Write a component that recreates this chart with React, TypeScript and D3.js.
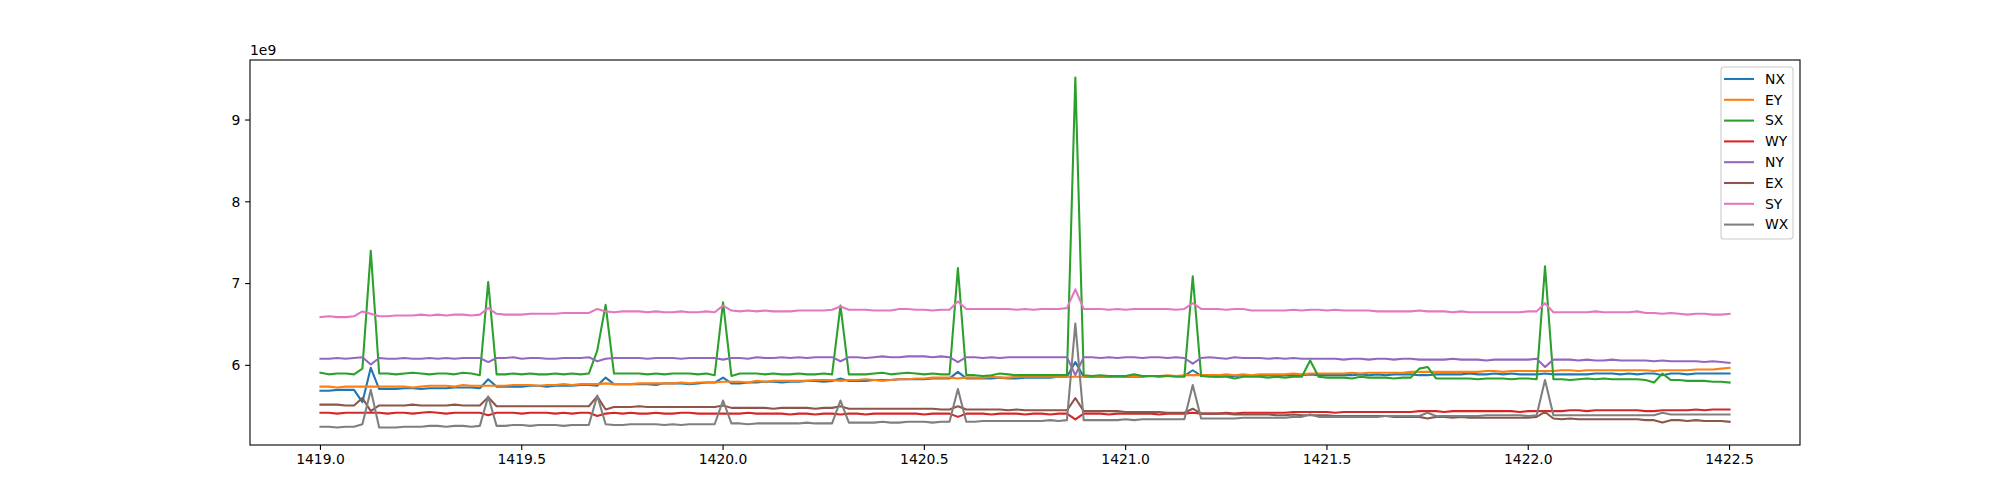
import React from 'react'
import * as d3 from 'd3'

// values in units of 1e9, sampled every 1/48 from 1419.0 to 1422.5
const xStart = 1419.0
const xStep = 1 / 48

const seriesNames = ['NX', 'EY', 'SX', 'WY', 'NY', 'EX', 'SY', 'WX']
const colors = ['#1f77b4', '#ff7f0e', '#2ca02c', '#d62728', '#9467bd', '#8c564b', '#e377c2', '#7f7f7f']

const NX = [
  5.69, 5.69, 5.70, 5.70, 5.70, 5.55, 5.97, 5.71, 5.71, 5.71, 5.72, 5.72, 5.71, 5.72,
  5.72, 5.72, 5.73, 5.73, 5.73, 5.72, 5.83, 5.74, 5.74, 5.74, 5.74, 5.75, 5.75, 5.74,
  5.75, 5.75, 5.75, 5.76, 5.76, 5.75, 5.85, 5.77, 5.77, 5.77, 5.77, 5.77, 5.76, 5.78,
  5.78, 5.78, 5.77, 5.78, 5.79, 5.79, 5.85, 5.78, 5.78, 5.79, 5.79, 5.80, 5.80, 5.79,
  5.80, 5.80, 5.81, 5.81, 5.80, 5.81, 5.84, 5.81, 5.81, 5.81, 5.82, 5.82, 5.82, 5.83,
  5.83, 5.83, 5.83, 5.84, 5.84, 5.84, 5.92, 5.84, 5.84, 5.84, 5.84, 5.85, 5.84, 5.84,
  5.85, 5.85, 5.85, 5.85, 5.86, 5.86, 6.04, 5.86, 5.86, 5.86, 5.86, 5.86, 5.86, 5.86,
  5.86, 5.87, 5.86, 5.87, 5.87, 5.87, 5.94, 5.87, 5.87, 5.86, 5.87, 5.87, 5.88, 5.87,
  5.88, 5.88, 5.87, 5.88, 5.88, 5.88, 5.89, 5.88, 5.88, 5.88, 5.88, 5.88, 5.89, 5.88,
  5.89, 5.88, 5.89, 5.89, 5.89, 5.88, 5.88, 5.89, 5.89, 5.89, 5.89, 5.90, 5.89, 5.89,
  5.90, 5.89, 5.90, 5.89, 5.89, 5.89, 5.90, 5.89, 5.89, 5.89, 5.89, 5.89, 5.90, 5.90,
  5.90, 5.89, 5.90, 5.89, 5.90, 5.90, 5.88, 5.90, 5.90, 5.89, 5.90, 5.90, 5.90, 5.90,
  5.90,
]

const EY = [
  5.74, 5.74, 5.73, 5.74, 5.74, 5.74, 5.74, 5.74, 5.74, 5.74, 5.74, 5.73, 5.74, 5.75,
  5.75, 5.75, 5.74, 5.76, 5.75, 5.75, 5.75, 5.75, 5.75, 5.76, 5.76, 5.76, 5.75, 5.76,
  5.76, 5.77, 5.76, 5.77, 5.77, 5.77, 5.78, 5.77, 5.77, 5.77, 5.78, 5.78, 5.78, 5.78,
  5.78, 5.79, 5.78, 5.79, 5.79, 5.79, 5.80, 5.80, 5.80, 5.79, 5.81, 5.80, 5.81, 5.81,
  5.81, 5.81, 5.81, 5.82, 5.82, 5.82, 5.81, 5.82, 5.82, 5.83, 5.82, 5.81, 5.82, 5.83,
  5.83, 5.84, 5.84, 5.85, 5.85, 5.85, 5.84, 5.85, 5.85, 5.85, 5.86, 5.85, 5.85, 5.86,
  5.86, 5.86, 5.86, 5.86, 5.86, 5.86, 5.86, 5.86, 5.87, 5.86, 5.87, 5.86, 5.87, 5.87,
  5.87, 5.87, 5.87, 5.88, 5.87, 5.88, 5.88, 5.88, 5.88, 5.88, 5.89, 5.88, 5.89, 5.88,
  5.89, 5.89, 5.89, 5.89, 5.90, 5.89, 5.90, 5.90, 5.90, 5.90, 5.90, 5.91, 5.90, 5.91,
  5.91, 5.91, 5.91, 5.91, 5.92, 5.92, 5.92, 5.92, 5.92, 5.92, 5.92, 5.92, 5.92, 5.93,
  5.93, 5.92, 5.93, 5.93, 5.93, 5.93, 5.93, 5.93, 5.94, 5.94, 5.93, 5.94, 5.94, 5.94,
  5.94, 5.94, 5.94, 5.94, 5.94, 5.93, 5.94, 5.94, 5.94, 5.94, 5.95, 5.95, 5.95, 5.96,
  5.97,
]

const SX = [
  5.91, 5.89, 5.90, 5.90, 5.89, 5.96, 7.40, 5.90, 5.90, 5.89, 5.90, 5.91, 5.90, 5.89,
  5.90, 5.90, 5.89, 5.91, 5.90, 5.88, 7.02, 5.89, 5.89, 5.90, 5.89, 5.90, 5.89, 5.89,
  5.90, 5.89, 5.90, 5.89, 5.90, 6.18, 6.74, 5.90, 5.90, 5.90, 5.90, 5.89, 5.90, 5.89,
  5.90, 5.90, 5.90, 5.89, 5.90, 5.88, 6.77, 5.87, 5.90, 5.90, 5.90, 5.89, 5.90, 5.89,
  5.89, 5.90, 5.89, 5.89, 5.90, 5.89, 6.73, 5.89, 5.89, 5.89, 5.90, 5.91, 5.89, 5.90,
  5.91, 5.90, 5.89, 5.90, 5.89, 5.89, 7.19, 5.88, 5.88, 5.87, 5.88, 5.90, 5.89, 5.88,
  5.88, 5.88, 5.88, 5.88, 5.88, 5.88, 9.52, 5.88, 5.87, 5.88, 5.87, 5.87, 5.87, 5.89,
  5.87, 5.87, 5.87, 5.87, 5.86, 5.86, 7.09, 5.87, 5.86, 5.86, 5.86, 5.84, 5.86, 5.86,
  5.86, 5.85, 5.86, 5.85, 5.86, 5.86, 6.06, 5.86, 5.85, 5.85, 5.85, 5.84, 5.86, 5.85,
  5.85, 5.85, 5.84, 5.85, 5.85, 5.96, 5.98, 5.84, 5.84, 5.84, 5.84, 5.84, 5.83, 5.84,
  5.84, 5.84, 5.83, 5.84, 5.84, 5.83, 7.21, 5.83, 5.83, 5.82, 5.83, 5.84, 5.83, 5.84,
  5.83, 5.83, 5.83, 5.83, 5.82, 5.79, 5.90, 5.82, 5.82, 5.81, 5.81, 5.81, 5.80, 5.80,
  5.79,
]

const WY = [
  5.42, 5.42, 5.41, 5.42, 5.42, 5.42, 5.42, 5.42, 5.41, 5.42, 5.42, 5.41, 5.42, 5.43,
  5.42, 5.41, 5.42, 5.42, 5.42, 5.42, 5.39, 5.42, 5.42, 5.42, 5.41, 5.42, 5.42, 5.42,
  5.41, 5.42, 5.41, 5.42, 5.42, 5.38, 5.41, 5.42, 5.41, 5.42, 5.41, 5.41, 5.42, 5.41,
  5.41, 5.42, 5.42, 5.41, 5.41, 5.41, 5.41, 5.41, 5.41, 5.42, 5.41, 5.41, 5.41, 5.41,
  5.40, 5.41, 5.41, 5.40, 5.41, 5.41, 5.40, 5.41, 5.41, 5.40, 5.41, 5.41, 5.41, 5.41,
  5.41, 5.41, 5.40, 5.41, 5.41, 5.41, 5.37, 5.41, 5.41, 5.41, 5.40, 5.41, 5.41, 5.41,
  5.40, 5.41, 5.41, 5.40, 5.41, 5.41, 5.34, 5.41, 5.41, 5.41, 5.40, 5.41, 5.41, 5.41,
  5.41, 5.41, 5.40, 5.41, 5.41, 5.41, 5.42, 5.41, 5.41, 5.41, 5.42, 5.41, 5.42, 5.42,
  5.42, 5.42, 5.42, 5.42, 5.43, 5.43, 5.43, 5.43, 5.43, 5.42, 5.43, 5.43, 5.43, 5.43,
  5.43, 5.43, 5.43, 5.43, 5.43, 5.44, 5.44, 5.44, 5.43, 5.44, 5.44, 5.44, 5.44, 5.44,
  5.44, 5.44, 5.44, 5.43, 5.44, 5.44, 5.44, 5.44, 5.44, 5.45, 5.45, 5.44, 5.45, 5.45,
  5.45, 5.45, 5.45, 5.45, 5.44, 5.44, 5.45, 5.45, 5.45, 5.45, 5.46, 5.45, 5.46, 5.46,
  5.46,
]

const NY = [
  6.08, 6.08, 6.09, 6.08, 6.09, 6.10, 6.01, 6.09, 6.08, 6.08, 6.09, 6.08, 6.08, 6.09,
  6.08, 6.09, 6.08, 6.09, 6.09, 6.09, 6.04, 6.09, 6.09, 6.10, 6.08, 6.09, 6.09, 6.08,
  6.08, 6.09, 6.09, 6.09, 6.10, 6.05, 6.08, 6.09, 6.09, 6.09, 6.09, 6.08, 6.09, 6.09,
  6.09, 6.08, 6.09, 6.09, 6.09, 6.09, 6.07, 6.09, 6.09, 6.08, 6.10, 6.09, 6.09, 6.10,
  6.09, 6.10, 6.09, 6.10, 6.10, 6.10, 6.05, 6.10, 6.10, 6.09, 6.10, 6.11, 6.10, 6.10,
  6.11, 6.11, 6.11, 6.10, 6.11, 6.10, 6.04, 6.10, 6.10, 6.09, 6.10, 6.09, 6.10, 6.10,
  6.10, 6.10, 6.10, 6.10, 6.10, 6.10, 5.88, 6.10, 6.10, 6.09, 6.10, 6.09, 6.10, 6.10,
  6.09, 6.10, 6.10, 6.09, 6.10, 6.09, 6.02, 6.09, 6.10, 6.09, 6.08, 6.10, 6.09, 6.09,
  6.09, 6.08, 6.09, 6.08, 6.09, 6.08, 6.08, 6.08, 6.08, 6.08, 6.07, 6.08, 6.08, 6.07,
  6.08, 6.08, 6.07, 6.08, 6.08, 6.07, 6.07, 6.07, 6.07, 6.08, 6.07, 6.07, 6.07, 6.06,
  6.07, 6.07, 6.07, 6.07, 6.07, 6.08, 5.98, 6.07, 6.07, 6.07, 6.06, 6.07, 6.06, 6.06,
  6.07, 6.06, 6.06, 6.06, 6.06, 6.05, 6.06, 6.05, 6.05, 6.05, 6.05, 6.04, 6.05, 6.04,
  6.03,
]

const EX = [
  5.52, 5.52, 5.52, 5.51, 5.51, 5.60, 5.44, 5.51, 5.51, 5.51, 5.51, 5.52, 5.51, 5.51,
  5.51, 5.51, 5.52, 5.51, 5.51, 5.51, 5.61, 5.50, 5.50, 5.50, 5.50, 5.50, 5.50, 5.50,
  5.50, 5.50, 5.50, 5.50, 5.50, 5.62, 5.46, 5.49, 5.49, 5.49, 5.50, 5.49, 5.49, 5.49,
  5.49, 5.49, 5.49, 5.49, 5.49, 5.49, 5.51, 5.48, 5.48, 5.48, 5.48, 5.48, 5.47, 5.48,
  5.48, 5.48, 5.48, 5.47, 5.48, 5.48, 5.50, 5.47, 5.47, 5.47, 5.47, 5.47, 5.47, 5.47,
  5.47, 5.47, 5.47, 5.47, 5.46, 5.46, 5.50, 5.46, 5.46, 5.46, 5.46, 5.46, 5.45, 5.46,
  5.45, 5.45, 5.45, 5.45, 5.45, 5.45, 5.60, 5.44, 5.44, 5.44, 5.44, 5.44, 5.43, 5.43,
  5.43, 5.43, 5.43, 5.42, 5.42, 5.42, 5.47, 5.41, 5.41, 5.41, 5.41, 5.40, 5.40, 5.40,
  5.40, 5.40, 5.39, 5.39, 5.40, 5.39, 5.39, 5.39, 5.39, 5.38, 5.38, 5.38, 5.38, 5.38,
  5.38, 5.38, 5.37, 5.37, 5.37, 5.37, 5.35, 5.37, 5.37, 5.36, 5.37, 5.36, 5.36, 5.36,
  5.36, 5.36, 5.36, 5.36, 5.36, 5.37, 5.43, 5.35, 5.34, 5.35, 5.34, 5.34, 5.34, 5.34,
  5.34, 5.34, 5.34, 5.34, 5.33, 5.33, 5.30, 5.33, 5.33, 5.32, 5.33, 5.32, 5.32, 5.32,
  5.31,
]

const SY = [
  6.59, 6.60, 6.59, 6.59, 6.60, 6.66, 6.63, 6.60, 6.60, 6.61, 6.61, 6.61, 6.62, 6.61,
  6.62, 6.61, 6.62, 6.62, 6.61, 6.62, 6.70, 6.63, 6.62, 6.62, 6.62, 6.63, 6.63, 6.63,
  6.63, 6.64, 6.64, 6.64, 6.64, 6.69, 6.66, 6.65, 6.66, 6.66, 6.66, 6.65, 6.66, 6.65,
  6.65, 6.66, 6.65, 6.65, 6.66, 6.65, 6.73, 6.67, 6.66, 6.67, 6.66, 6.67, 6.66, 6.66,
  6.66, 6.67, 6.67, 6.67, 6.67, 6.68, 6.72, 6.68, 6.68, 6.68, 6.67, 6.67, 6.67, 6.69,
  6.69, 6.68, 6.68, 6.67, 6.68, 6.68, 6.78, 6.69, 6.69, 6.69, 6.69, 6.69, 6.69, 6.68,
  6.69, 6.68, 6.69, 6.69, 6.69, 6.70, 6.93, 6.69, 6.69, 6.69, 6.68, 6.69, 6.68, 6.69,
  6.69, 6.69, 6.69, 6.69, 6.68, 6.69, 6.76, 6.69, 6.69, 6.69, 6.68, 6.69, 6.69, 6.67,
  6.67, 6.67, 6.67, 6.67, 6.68, 6.67, 6.68, 6.68, 6.67, 6.68, 6.67, 6.67, 6.67, 6.67,
  6.66, 6.66, 6.66, 6.66, 6.66, 6.67, 6.66, 6.66, 6.66, 6.65, 6.66, 6.65, 6.65, 6.65,
  6.65, 6.65, 6.65, 6.65, 6.66, 6.66, 6.76, 6.65, 6.65, 6.65, 6.65, 6.65, 6.66, 6.65,
  6.65, 6.65, 6.65, 6.66, 6.64, 6.64, 6.63, 6.64, 6.63, 6.62, 6.63, 6.63, 6.62, 6.62,
  6.63,
]

const WX = [
  5.25, 5.25, 5.24, 5.25, 5.25, 5.28, 5.70, 5.24, 5.24, 5.24, 5.25, 5.25, 5.25, 5.26,
  5.26, 5.25, 5.26, 5.26, 5.25, 5.26, 5.62, 5.26, 5.26, 5.27, 5.27, 5.26, 5.27, 5.27,
  5.27, 5.26, 5.27, 5.27, 5.27, 5.63, 5.28, 5.27, 5.27, 5.28, 5.28, 5.28, 5.28, 5.27,
  5.28, 5.27, 5.28, 5.28, 5.28, 5.28, 5.57, 5.29, 5.29, 5.28, 5.29, 5.29, 5.29, 5.29,
  5.29, 5.29, 5.30, 5.29, 5.29, 5.29, 5.57, 5.30, 5.30, 5.30, 5.30, 5.31, 5.30, 5.30,
  5.31, 5.31, 5.31, 5.30, 5.31, 5.31, 5.71, 5.31, 5.31, 5.32, 5.32, 5.32, 5.32, 5.32,
  5.32, 5.32, 5.32, 5.33, 5.32, 5.33, 6.51, 5.33, 5.33, 5.33, 5.33, 5.33, 5.34, 5.33,
  5.34, 5.34, 5.34, 5.34, 5.34, 5.34, 5.76, 5.35, 5.35, 5.35, 5.35, 5.35, 5.36, 5.36,
  5.36, 5.36, 5.36, 5.36, 5.37, 5.37, 5.40, 5.37, 5.37, 5.37, 5.37, 5.37, 5.37, 5.37,
  5.37, 5.38, 5.38, 5.38, 5.38, 5.38, 5.42, 5.38, 5.38, 5.38, 5.38, 5.38, 5.38, 5.39,
  5.39, 5.39, 5.39, 5.39, 5.38, 5.39, 5.82, 5.39, 5.39, 5.39, 5.39, 5.39, 5.39, 5.39,
  5.39, 5.39, 5.39, 5.39, 5.39, 5.39, 5.42, 5.40, 5.40, 5.40, 5.40, 5.40, 5.40, 5.40,
  5.40,
]

const allSeries = [NX, EY, SX, WY, NY, EX, SY, WX]

const xTicks = [1419.0, 1419.5, 1420.0, 1420.5, 1421.0, 1421.5, 1422.0, 1422.5]
const yTicks = [6, 7, 8, 9]

const W = 2000
const H = 500
const ax = { left: 250, right: 1800, top: 60, bottom: 445 }
const font = 'DejaVu Sans, sans-serif'

export default function App() {
  const xs = NX.map((_, i) => xStart + i * xStep)
  const xMin = xs[0]
  const xMax = xs[xs.length - 1]
  const xPad = (xMax - xMin) * 0.05
  const yMin = d3.min(allSeries, s => d3.min(s)) as number
  const yMax = d3.max(allSeries, s => d3.max(s)) as number
  const yPad = (yMax - yMin) * 0.05

  const xScale = d3.scaleLinear()
    .domain([xMin - xPad, xMax + xPad])
    .range([ax.left, ax.right])
  const yScale = d3.scaleLinear()
    .domain([yMin - yPad, yMax + yPad])
    .range([ax.bottom, ax.top])

  const line = d3.line<number>()
    .x((_, i) => xScale(xs[i]))
    .y(d => yScale(d))

  const legendX = 1721
  const legendY = 67
  const rowH = 20.8

  return (
    <div style={{ position: 'absolute', left: 0, top: 0 }}>
      <svg width={W} height={H} style={{ display: 'block', background: '#fff' }}>
        <defs>
          <clipPath id='plot-clip'>
            <rect x={ax.left} y={ax.top} width={ax.right - ax.left} height={ax.bottom - ax.top} />
          </clipPath>
        </defs>

        {/* series lines */}
        <g clipPath='url(#plot-clip)'>
          {allSeries.map((s, k) => (
            <path key={seriesNames[k]} d={line(s) as string} fill='none'
              stroke={colors[k]} strokeWidth={2.08} strokeLinejoin='round' strokeLinecap='square' />
          ))}
        </g>

        {/* axes frame */}
        <rect x={ax.left} y={ax.top} width={ax.right - ax.left} height={ax.bottom - ax.top}
          fill='none' stroke='#000' strokeWidth={1.1} />

        {/* x ticks */}
        {xTicks.map(t => (
          <g key={'x' + t} transform={'translate(' + xScale(t) + ',' + ax.bottom + ')'}>
            <line y1={0} y2={4.9} stroke='#000' strokeWidth={1.1} />
            <text y={19} textAnchor='middle' fontFamily={font} fontSize={13.9} fill='#000'>
              {t.toFixed(1)}
            </text>
          </g>
        ))}

        {/* y ticks */}
        {yTicks.map(t => (
          <g key={'y' + t} transform={'translate(' + ax.left + ',' + yScale(t) + ')'}>
            <line x1={0} x2={-4.9} stroke='#000' strokeWidth={1.1} />
            <text x={-9.7} dy='0.35em' textAnchor='end' fontFamily={font} fontSize={13.9} fill='#000'>
              {t}
            </text>
          </g>
        ))}

        <text x={ax.left} y={ax.top - 5} fontFamily={font} fontSize={13.9} fill='#000'>1e9</text>

        {/* legend */}
        <rect x={legendX} y={legendY} width={72} height={172} rx={3} ry={3}
          fill='#fff' fillOpacity={0.8} stroke='#cccccc' strokeWidth={1.1} />
        {seriesNames.map((name, k) => (
          <g key={'lg' + name} transform={'translate(' + legendX + ',' + (legendY + 12 + k * rowH) + ')'}>
            <line x1={3} x2={33} stroke={colors[k]} strokeWidth={2.08} />
            <text x={44} dy='0.35em' fontFamily={font} fontSize={13.9} fill='#000'>{name}</text>
          </g>
        ))}
      </svg>
    </div>
  )
}
